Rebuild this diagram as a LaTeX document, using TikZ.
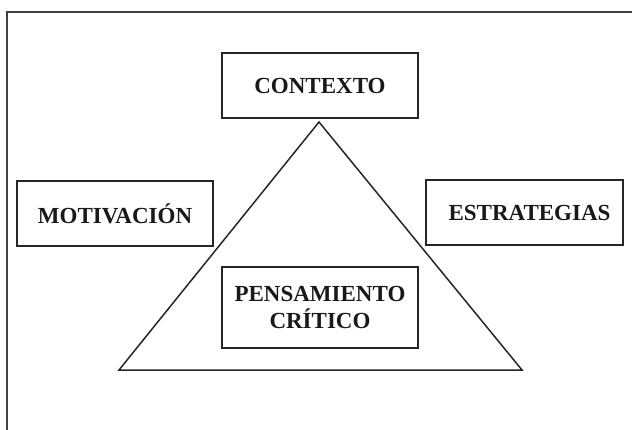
\documentclass[tikz,border=0pt]{standalone}
\usepackage{fontspec}
\setmainfont{Liberation Serif}
\begin{document}
\begin{tikzpicture}[x=1pt,y=1pt,
  lbl/.style={draw=black!85, line width=1.5pt, inner sep=0pt, font=\fontsize{23}{27}\selectfont\bfseries, text=black!90, align=center}]
\useasboundingbox (0,0) rectangle (632,-429);
\clip (0,0) rectangle (632,-429);
\draw[black!75, line width=2pt] (6.5,-440) coordinate (fbl) -- (6.5,-12) coordinate (ftl) -- (650,-12) coordinate (ftr);
\node[lbl, minimum width=196pt, minimum height=65pt] (ctx) at (320,-85.5) {CONTEXTO};
\node[lbl, minimum width=196pt, minimum height=65pt] (mot) at (115,-213.5) {MOTIVACIÓN};
\node[lbl, minimum width=197pt, minimum height=65pt] (est) at (524.5,-212.5) {\hspace*{10pt}ESTRATEGIAS};
\node[lbl, minimum width=196pt, minimum height=81pt] (pen) at (320,-307.5) {PENSAMIENTO\\CRÍTICO};
\coordinate (apex) at (319,-122);
\coordinate (bl) at (119,-370);
\coordinate (br) at (522,-370);
\draw[black!85, line width=1.5pt, line join=miter] (apex) -- (br) -- (bl) -- cycle;
\end{tikzpicture}
\end{document}
